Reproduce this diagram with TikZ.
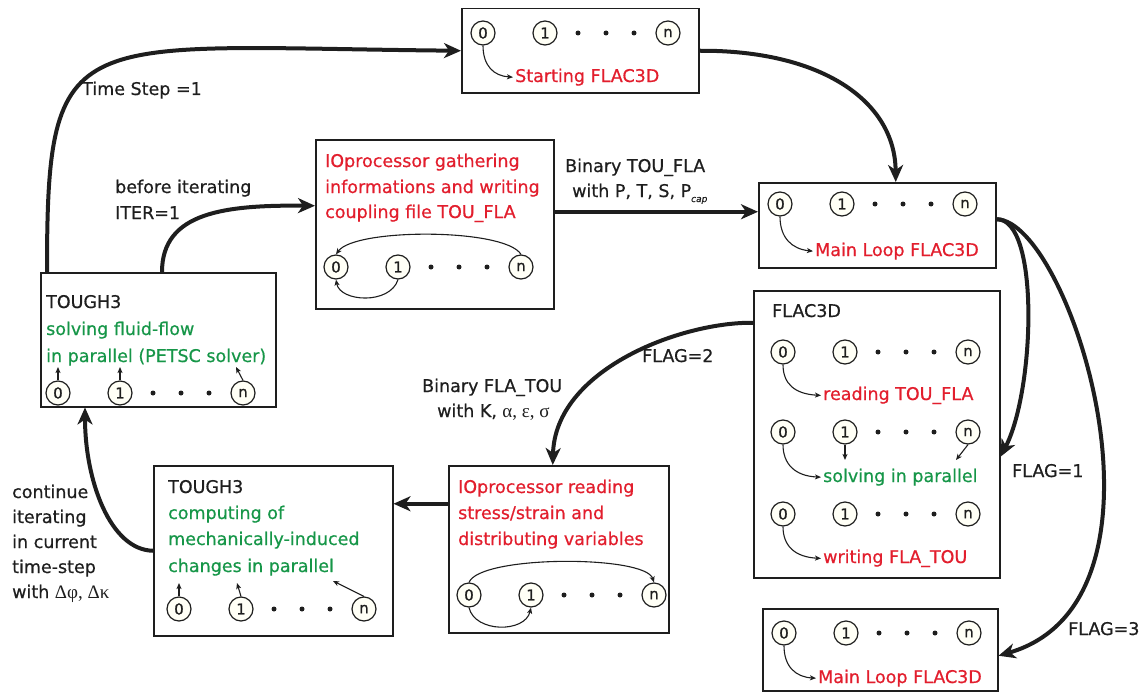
\documentclass[tikz,border=0pt]{standalone}
\usepackage{fontspec}
\setmainfont{DejaVu Sans}[FakeBold=0.6]
\newfontfamily\grk{Liberation Serif}
\usetikzlibrary{arrows.meta,calc}
\definecolor{tred}{RGB}{226,30,45}
\definecolor{tgreen}{RGB}{22,150,72}
\definecolor{ink}{RGB}{30,30,30}
\definecolor{cream}{RGB}{255,255,246}
\newcommand\prow[3]{%
  \node[proc] (#1a) at (#2,#3) {0};
  \node[proc] (#1b) at ({#2+62},#3) {1};
  \node[pdot] (#1d) at ({#2+95},#3) {};
  \node[pdot] (#1e) at ({#2+123},#3) {};
  \node[pdot] (#1f) at ({#2+151},#3) {};
  \node[proc] (#1n) at ({#2+185},#3) {n};}
\begin{document}
\begin{tikzpicture}[x=1pt,y=-1pt,
  box/.style={draw=ink, line width=1.5pt, rectangle, inner sep=0pt, anchor=north west},
  proc/.style={circle, draw=ink, line width=1.2pt, fill=cream, minimum size=24pt, inner sep=0pt, font=\fontsize{15}{15}\selectfont, text=ink},
  pdot/.style={circle, fill=ink, minimum size=5pt, inner sep=0pt},
  txt/.style={anchor=base west, inner sep=0pt, font=\fontsize{17.5}{17.5}\selectfont, text=ink},
  rtxt/.style={txt, text=tred},
  gtxt/.style={txt, text=tgreen},
  big/.style={line width=4pt, draw=ink, -{Stealth[length=17pt,width=15pt,inset=5pt]}},
  small/.style={line width=1.1pt, draw=ink, -{Stealth[length=6pt,width=5pt,inset=1.5pt]}},
]
\useasboundingbox (0,0) rectangle (1146,693);

% ---- boxes
\node[box, minimum width=237pt, minimum height=84pt]  (b1) at (461,8) {};
\node[box, minimum width=238pt, minimum height=169pt] (b2) at (315,139) {};
\node[box, minimum width=235pt, minimum height=134pt] (b3) at (40,272) {};
\node[box, minimum width=237pt, minimum height=85pt]  (b4) at (758,182) {};
\node[box, minimum width=246pt, minimum height=287pt] (b5) at (753,290) {};
\node[box, minimum width=239pt, minimum height=170pt] (b6) at (153,465) {};
\node[box, minimum width=220pt, minimum height=167pt] (b7) at (448,465) {};
\node[box, minimum width=235pt, minimum height=82pt]  (b8) at (762,608) {};

% ---- box 1
\prow{rA}{483}{33}
\node[rtxt] (t1) at (515,82) {Starting FLAC3D};
\draw[small] (rAa.south) .. controls (483,66) and (494,76) .. ([xshift=-2pt]t1.west);

% ---- box 2
\node[rtxt] (t2a) at (325,167) {IOprocessor gathering};
\node[rtxt] (t2b) at (325,193) {informations and writing};
\node[rtxt] (t2c) at (325,218) {coupling file TOU\_FLA};
\prow{rB}{336}{267}
\draw[small] (rBn.north) .. controls (505,228) and (355,228) .. (rBa.north);
\draw[small] (rBb.south) .. controls (390,305) and (340,302) .. (rBa.south);

% ---- box 3
\node[txt] (t3a) at (46,308) {TOUGH3};
\node[gtxt] (t3b) at (46,335) {solving fluid-flow};
\node[gtxt] (t3c) at (46,362) {in parallel (PETSC solver)};
\prow{rC}{58}{393}
\coordinate (c3a) at (58,367);
\coordinate (c3b) at (120,367);
\coordinate (c3n) at (236,367);
\draw[small] (rCa.north) -- (c3a);
\draw[small] (rCb.north) -- (c3b);
\draw[small] (rCn.north) -- (c3n);

% ---- box 4
\prow{rD}{780}{204}
\node[rtxt] (t4) at (815,256) {Main Loop FLAC3D};
\draw[small] (rDa.south) .. controls (780,238) and (792,249) .. ([xshift=-2pt]t4.west);

% ---- box 5
\node[txt] (t5) at (772,317) {FLAC3D};
\prow{rE}{783}{352}
\node[rtxt] (t5a) at (823,400) {reading TOU\_FLA};
\draw[small] (rEa.south) .. controls (783,384) and (795,394) .. ([xshift=-2pt]t5a.west);
\prow{rF}{783}{432}
\node[gtxt] (t5b) at (823,482) {solving in parallel};
\draw[small] (rFa.south) .. controls (783,464) and (795,476) .. ([xshift=-2pt]t5b.west);
\coordinate (c5b) at (845,460);
\coordinate (c5n) at (956,460);
\draw[small] (rFb.south) -- (c5b);
\draw[small] (rFn.south) -- (c5n);
\prow{rG}{783}{514}
\node[rtxt] (t5c) at (823,563) {writing FLA\_TOU};
\draw[small] (rGa.south) .. controls (783,546) and (795,557) .. ([xshift=-2pt]t5c.west);

% ---- box 6
\node[txt] (t6a) at (168,493) {TOUGH3};
\node[gtxt] (t6b) at (168,519) {computing of};
\node[gtxt] (t6c) at (168,545) {mechanically-induced};
\node[gtxt] (t6d) at (168,572) {changes in parallel};
\prow{rH}{179}{609}
\coordinate (c6a) at (179,583);
\coordinate (c6b) at (237,583);
\coordinate (c6n) at (333,581);
\draw[small] (rHa.north) -- (c6a);
\draw[small] (rHb.north) -- (c6b);
\draw[small] (rHn.north) -- (c6n);

% ---- box 7
\node[rtxt] (t7a) at (458,493) {IOprocessor reading};
\node[rtxt] (t7b) at (458,519) {stress/strain and};
\node[rtxt] (t7c) at (458,545) {distributing variables};
\prow{rI}{469}{595}
\draw[small] (rIa.north) .. controls (480,555) and (645,555) .. (rIn.north);
\draw[small] (rIa.south) .. controls (475,633) and (525,633) .. (rIb.south);

% ---- box 8
\prow{rJ}{784}{633}
\node[rtxt] (t8) at (818,683) {Main Loop FLAC3D};
\draw[small] (rJa.south) .. controls (784,667) and (796,677) .. ([xshift=-2pt]t8.west);

% ---- big connectors
\draw[big] ([xshift=7pt]b3.north west) .. controls (47,20) and (70,47) .. (b1.west);
\draw[big] (b1.east) .. controls (820,50) and (895,100) .. ([xshift=18.5pt]b4.north);
\draw[big] ([xshift=122pt]b3.north west) .. controls (162,212) and (225,205) .. ([yshift=18.5pt]b2.west);
\draw[big] ([yshift=12.5pt]b2.east) -- ([yshift=12.5pt]b2.east -| b4.west);
\draw[big] ([yshift=6pt]b4.east) .. controls (1040,218) and (1035,390) .. ([yshift=-22.5pt]b5.east);
\draw[big] ([yshift=6pt]b4.east) .. controls (1070,220) and (1190,600) .. ([yshift=-6pt]b8.east);
\draw[big] ([yshift=111.5pt]b5.west) .. controls (680,322) and (555,370) .. ([xshift=-6pt]b7.north);
\draw[big] ([yshift=45.5pt]b7.west) -- ([yshift=45.5pt]b7.west -| b6.east);
\draw[big] (b6.west) .. controls (110,550) and (85,480) .. ([xshift=45pt]b3.south west);

% ---- labels
\node[txt] (l1) at (82,95) {Time Step =1};
\node[txt] (l2a) at (115,193) {before iterating};
\node[txt] (l2b) at (115,219) {ITER=1};
\node[txt] (l3a) at (565,172) {Binary TOU\_FLA};
\node[txt] (l3b) at (572,197) {with P, T, S, P\raisebox{-5pt}{\fontsize{9}{9}\selectfont\itshape cap}};
\node[txt] (l4) at (642,362) {FLAG=2};
\node[txt] (l5a) at (422,392) {Binary FLA\_TOU};
\node[txt] (l5b) at (437,417) {with K, {\grk\fontsize{19}{19}\selectfont α, ε, σ}};
\node[txt] (l6) at (1012,477) {FLAG=1};
\node[txt] (l7) at (1068,635) {FLAG=3};
\node[txt] (l8a) at (12,498) {continue};
\node[txt] (l8b) at (12,523) {iterating};
\node[txt] (l8c) at (12,548) {in current};
\node[txt] (l8d) at (12,573) {time-step};
\node[txt] (l8e) at (12,598) {with {\grk\fontsize{19}{19}\selectfont Δφ, Δκ}};
\end{tikzpicture}
\end{document}
